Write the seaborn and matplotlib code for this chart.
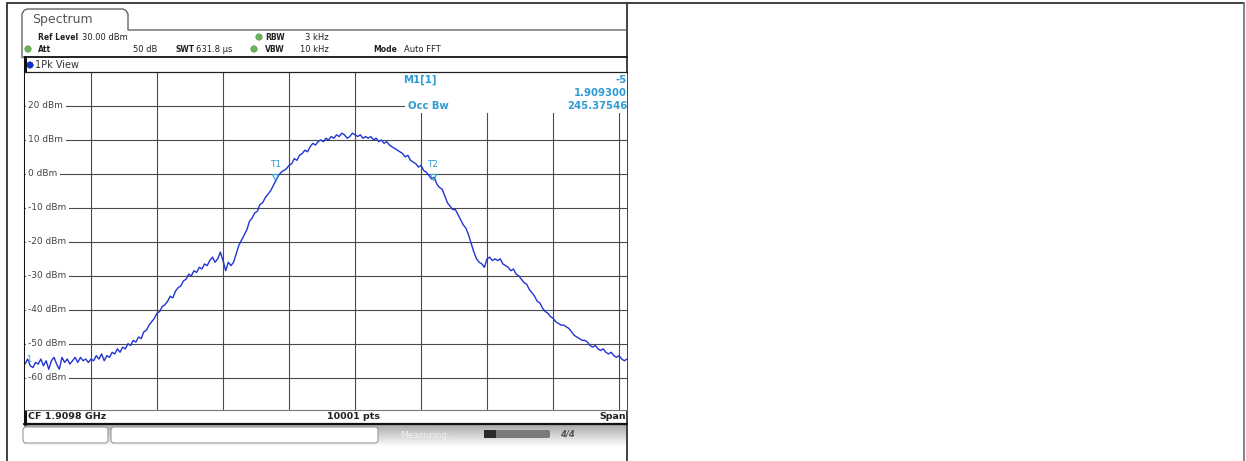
import numpy as np
import pandas as pd
import matplotlib
matplotlib.use("Agg")
import matplotlib.pyplot as plt
from matplotlib.patches import Rectangle, FancyBboxPatch, Circle
import seaborn as sns

freq_khz = list(range(-500, 413, 4))
level_dbm = [
    # -500 .. -404
    -56.0, -54.5, -56.5, -57.0, -55.5, -56.0, -54.5, -56.5, -55.0, -57.5, -55.0, -54.0, -56.0,
    -57.5, -54.0, -55.5, -54.5, -56.0, -55.0, -54.0, -55.5, -54.0, -55.0, -54.5, -55.5,
    # -400 .. -304
    -54.5, -55.0, -53.5, -54.5, -53.0, -55.0, -53.5, -54.0, -52.5, -53.0, -51.5, -52.5, -51.0,
    -51.5, -50.0, -50.5, -49.0, -49.5, -48.0, -48.5, -46.5, -46.0, -44.5, -43.5, -42.5,
    # -300 .. -204
    -41.0, -40.5, -39.0, -38.5, -37.5, -36.0, -36.5, -34.5, -33.5, -33.0, -31.5, -31.0, -29.5,
    -30.0, -28.5, -29.0, -27.5, -28.0, -26.5, -27.0, -25.5, -24.5, -26.0, -25.0, -23.0,
    # -200 .. -104
    -25.5, -28.5, -26.0, -27.0, -26.0, -23.5, -21.0, -19.5, -18.0, -16.5, -14.0, -13.0, -11.5,
    -11.0, -9.0, -8.5, -7.0, -6.0, -5.0, -3.5, -2.0, -0.5, 0.5, 1.0, 1.5,
    # -100 .. -4
    2.5, 3.0, 4.5, 4.0, 5.5, 6.0, 7.0, 6.5, 8.0, 9.0, 8.5, 9.5, 10.0,
    9.5, 10.5, 10.0, 11.0, 10.5, 11.5, 11.0, 12.0, 11.5, 10.5, 11.0, 12.0,
    # 0 .. 96
    11.5, 11.0, 11.5, 10.5, 11.0, 10.5, 11.0, 10.0, 10.5, 9.5, 10.0, 9.0, 9.5,
    8.5, 8.0, 7.5, 7.0, 6.5, 6.0, 5.0, 5.5, 4.0, 3.5, 3.0, 2.0,
    # 100 .. 196
    2.5, 1.0, 0.5, -0.5, -1.5, -1.0, -3.0, -4.0, -4.5, -6.5, -8.5, -9.5, -10.5,
    -10.5, -12.0, -13.5, -15.0, -16.0, -18.0, -20.5, -23.0, -25.0, -26.0, -26.5, -27.5,
    # 200 .. 296
    -25.0, -24.5, -25.5, -25.0, -25.5, -25.0, -26.5, -27.0, -27.5, -28.5, -28.0, -29.5, -30.0,
    -31.0, -32.0, -32.5, -34.0, -35.0, -36.0, -37.5, -38.0, -39.5, -40.5, -41.0, -42.0,
    # 300 .. 412
    -42.5, -43.5, -44.0, -44.5, -44.5, -45.0, -45.5, -46.5, -47.5, -48.0, -48.5, -49.0, -49.0,
    -49.5, -50.5, -51.0, -50.5, -51.5, -52.0, -51.5, -52.5, -53.0, -52.5, -53.5, -54.0, -53.5,
    -54.5, -55.0, -54.5,
]

y_levels = [20, 10, 0, -10, -20, -30, -40, -50, -60]
x_grid_khz = [-400, -300, -200, -100, 0, 100, 200, 300, 400]
t1_khz, t2_khz = -121, 118

W, H = 1246, 461
sns.set_style("white")
plt.rcParams["font.family"] = ["DejaVu Sans"]

fig = plt.figure(figsize=(W / 100, H / 100), dpi=100)

# pixel overlay for the page / table / analyzer chrome
deco = fig.add_axes([0, 0, 1, 1])
deco.axis("off")

dark = "#333333"
mblue = "#2f9bd3"

# status bar gradient
grad = np.linspace(0.66, 1.0, 40).reshape(-1, 1)
deco.imshow(np.repeat(grad, 2, axis=1), cmap="gray", vmin=0, vmax=1, aspect="auto",
            extent=[24, 627, 447, 424], origin="upper", zorder=1)
deco.set_xlim(0, W)
deco.set_ylim(H, 0)

# table cells
deco.plot([7, 1244], [3, 3], color=dark, lw=1.3)
deco.plot([7, 7], [3, H], color=dark, lw=1.3)
deco.plot([1244, 1244], [3, H], color="#777777", lw=1.3)
deco.plot([627, 627], [3, H], color=dark, lw=1.3)

# tab
tab_x = [22, 22, 24, 27, 123, 126, 128, 128, 627]
tab_y = [58, 14, 10.5, 9, 9, 10.5, 14, 30, 30]
deco.plot(tab_x, tab_y, color="#555555", lw=0.9)
deco.text(32, 20, "Spectrum", fontsize=9, color="#555555", va="center")

# header info
hb = dict(fontsize=5.5, va="center", color="#222222", fontweight="bold")
hr = dict(fontsize=6, va="center", color="#222222")
deco.text(38, 37, "Ref Level", **hb)
deco.text(82, 37, "30.00 dBm", **hr)
deco.text(265, 37, "RBW", **hb)
deco.text(305, 37, "3 kHz", **hr)
deco.text(38, 49, "Att", **hb)
deco.text(157, 49, "50 dB", ha="right", **hr)
deco.text(175, 49, "SWT", **hb)
deco.text(196, 49, "631.8 µs", **hr)
deco.text(265, 49, "VBW", **hb)
deco.text(300, 49, "10 kHz", **hr)
deco.text(373, 49, "Mode", **hb)
deco.text(404, 49, "Auto FFT", **hr)
for cx, cy in [(259, 37), (28, 49), (254, 49)]:
    deco.add_patch(Circle((cx, cy), 3.2, fc="#6cb356", ec="#4a8a3a", lw=0.4, zorder=3))

# 1Pk View band
deco.plot([24, 627], [57.5, 57.5], color="#111111", lw=1.3)
deco.add_patch(Circle((30, 65), 3.2, fc="#1432d0", ec="#0a1a80", lw=0.4, zorder=3))
deco.text(35, 65, "1Pk View", fontsize=7, va="center", color="#333333")
deco.plot([24.5, 24.5], [57, 424], color="#111111", lw=2.2, zorder=5)

# footer
fk = dict(fontsize=6.8, va="center", fontweight="bold", color="#222222")
deco.text(28, 416.5, "CF 1.9098 GHz", **fk)
deco.text(327, 416.5, "10001 pts", **fk)
deco.text(626, 416.5, "Span", ha="right", **fk)
deco.plot([24, 627], [423.5, 423.5], color="#111111", lw=1.6, zorder=5)

# status bar pieces
deco.add_patch(FancyBboxPatch((23, 427), 85, 16, boxstyle="round,pad=0,rounding_size=3",
                              fc="white", ec="#999999", lw=0.8, zorder=3))
deco.add_patch(FancyBboxPatch((111, 427), 267, 16, boxstyle="round,pad=0,rounding_size=3",
                              fc="white", ec="#999999", lw=0.8, zorder=3))
deco.text(400, 435, "Measuring...", fontsize=6.5, color="#f2f2f2", va="center", zorder=3)
deco.add_patch(FancyBboxPatch((484, 430), 66, 8, boxstyle="round,pad=0,rounding_size=2",
                              fc="#7a7a7a", ec="none", zorder=3))
deco.add_patch(Rectangle((484, 430), 12, 8, fc="#2a2a2a", ec="none", zorder=4))
deco.text(560, 434, "4/4", fontsize=6, color="#555555", fontstyle="italic",
          fontweight="bold", va="center", zorder=3)

# trace axes: 1 px = 1/0.66 kHz, 34 px per 10 dB
ax = fig.add_axes([25 / W, 1 - 410 / H, (627 - 25) / W, (410 - 72) / H])
ax.set_facecolor("white")
df = pd.DataFrame({"freq": freq_khz, "level": level_dbm})
sns.lineplot(data=df, x="freq", y="level", ax=ax, color="#2034d4", lw=1.0, zorder=4)
ax.set_xlim(-500, 412)
ax.set_ylim(-69.5, 30)
ax.set_xticks(x_grid_khz)
ax.set_yticks(y_levels)
ax.grid(True, color="#4a4a4a", lw=0.8)
ax.tick_params(length=0, labelbottom=False, labelleft=False)
ax.set_xlabel("")
ax.set_ylabel("")
ax.spines["right"].set_visible(False)
ax.spines["left"].set_visible(False)
ax.spines["top"].set_color("#222222")
ax.spines["top"].set_linewidth(0.9)
ax.spines["bottom"].set_color("#777777")
ax.spines["bottom"].set_linewidth(0.8)

# marker info box
ax.add_patch(Rectangle((76, 17.9), 412 - 76, 13, fc="white", ec="none", zorder=1.5))
ik = dict(fontsize=7.3, fontweight="bold", color=mblue, va="center", zorder=6)
ax.text(0.656, 0.976, "M1[1]", transform=ax.transAxes, ha="center", **ik)
ax.text(1.0, 0.976, "-5", transform=ax.transAxes, ha="right", **ik)
ax.text(1.0, 0.937, "1.909300", transform=ax.transAxes, ha="right", **ik)
ax.text(0.637, 0.899, "Occ Bw", transform=ax.transAxes, ha="left", **ik)
ax.text(1.0, 0.899, "245.37546", transform=ax.transAxes, ha="right", **ik)

for v in y_levels:
    ax.text(-495, v, f"{v} dBm", fontsize=6.5, color="#444444", va="center", ha="left",
            bbox=dict(fc="white", ec="none", pad=1.8), zorder=3)

# occupied bandwidth markers
for fk_, lab in [(t1_khz, "T1"), (t2_khz, "T2")]:
    ax.text(fk_, 1.3, lab, fontsize=6.5, color=mblue, ha="center", va="bottom", zorder=6)
    ax.plot([fk_], [-0.8], marker="v", ms=4, mfc="none", mec=mblue, mew=0.8, zorder=6)
ax.text(-498, -54.5, "1", fontsize=6, color=mblue, va="center", ha="left", zorder=6)

fig.savefig("out.png", dpi=100)
